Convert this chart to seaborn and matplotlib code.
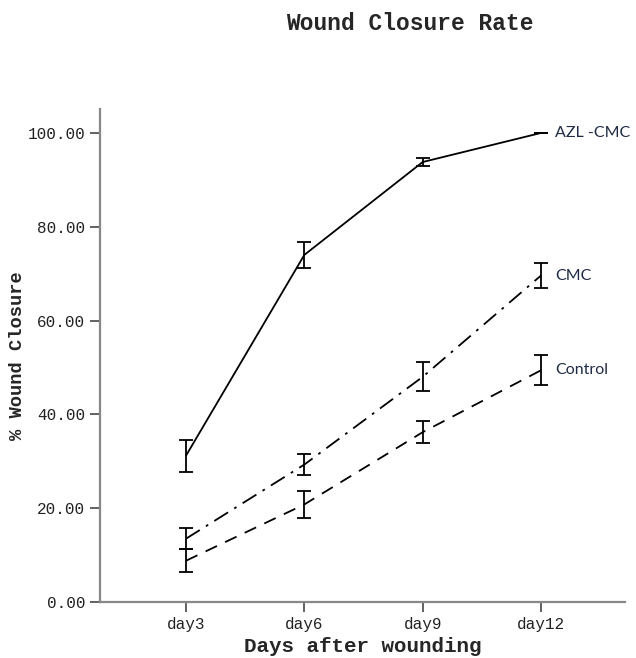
import numpy as np
import pandas as pd
import matplotlib
matplotlib.use("Agg")
import matplotlib.pyplot as plt
import seaborn as sns

# ---- data ----
days = ["day3", "day6", "day9", "day12"]
groups = ["AZL -CMC", "CMC", "Control"]
azl_mean = [31.2, 74.0, 93.8, 100.0]
azl_err = [3.4, 2.7, 0.8, 0.0]
cmc_mean = [13.5, 29.3, 48.0, 69.6]
cmc_err = [2.2, 2.3, 3.1, 2.6]
ctrl_mean = [8.8, 20.8, 36.2, 49.4]
ctrl_err = [2.5, 2.8, 2.3, 3.2]

means = {"AZL -CMC": azl_mean, "CMC": cmc_mean, "Control": ctrl_mean}
errs = {"AZL -CMC": azl_err, "CMC": cmc_err, "Control": ctrl_err}

rows = []
for g in groups:
    for i, d in enumerate(days):
        rows.append({"group": g, "day": d, "pos": i,
                     "mean": means[g][i], "err": errs[g][i]})
df = pd.DataFrame(rows)

styles = {"AZL -CMC": "-", "CMC": (0, (9, 4, 1.5, 4)), "Control": (0, (7, 5))}

sns.set_style("white")
plt.rcParams["font.family"] = ["Liberation Mono", "DejaVu Sans"]

fig = plt.figure(figsize=(6.36, 6.58), dpi=100)
ax = fig.add_axes([0.1572, 0.0851, 0.8255, 0.7492])

for g in groups:
    sub = df[df["group"] == g]
    sns.lineplot(data=sub, x="pos", y="mean", ax=ax, color="black",
                 linewidth=1.3, linestyle=styles[g], legend=False)
    ax.errorbar(sub["pos"], sub["mean"], yerr=sub["err"], fmt="none",
                ecolor="black", elinewidth=1.3, capsize=5, capthick=1.3)
    ax.text(sub["pos"].iloc[-1] + 0.12, sub["mean"].iloc[-1], g,
            family=["Lato", "DejaVu Sans"], fontsize=11.5, color="#1f2b45",
            va="center", ha="left", clip_on=False)

ax.set_xlim(-0.727, 3.71)
ax.set_ylim(0, 105.1)
ax.set_xticks(range(len(days)))
ax.set_xticklabels(days)
ax.set_yticks([0, 20, 40, 60, 80, 100])
ax.set_yticklabels([f"{v:.2f}" for v in [0, 20, 40, 60, 80, 100]])
ax.tick_params(axis="both", direction="out", length=7, width=1.3,
               color="#555555", labelsize=11.5, labelcolor="#222222",
               bottom=True, left=True)

for side in ["top", "right"]:
    ax.spines[side].set_visible(False)
for side in ["left", "bottom"]:
    ax.spines[side].set_color("#888888")
    ax.spines[side].set_linewidth(1.6)

ax.set_xlabel("Days after wounding", fontsize=15, fontweight="bold", labelpad=4)
ax.set_ylabel("% Wound Closure", fontsize=13.5, fontweight="bold", labelpad=1)
fig.text(0.645, 0.965, "Wound Closure Rate", fontsize=16.5, fontweight="bold",
         ha="center", va="center")

fig.savefig("out.png", dpi=100)
